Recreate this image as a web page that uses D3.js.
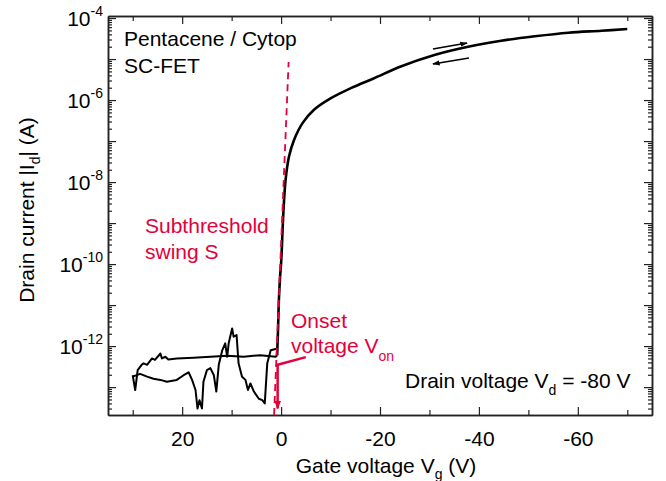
<!DOCTYPE html>
<html>
<head>
<meta charset="utf-8">
<script src="https://cdn.jsdelivr.net/npm/d3@7"></script>
<style>
  body { margin: 0; background: #fff; }
  svg { font-family: "Liberation Sans", Arial, sans-serif; }
</style>
</head>
<body>
<div id="chart"></div>
<script>
// on-state branch (shared by both sweeps), gate voltage in V, drain current in A
var onV = [0.8, 0.6, 0.45, 0.2, -0.04, -0.45, -0.9, -1.6, -2.6, -4.3, -6.65, -10, -14.1, -18.8, -24.2, -31, -37.8, -44.5, -51.3, -58.1, -64.8, -70];
var onI = [6e-13, 3e-12, 1.3e-11, 5e-11, 1.26e-10, 1.7e-9, 1.1e-8, 4.2e-8, 1.05e-7, 2.7e-7, 5.8e-7, 1.1e-6, 1.95e-6, 3.4e-6, 6.6e-6, 1.26e-5, 2.0e-5, 2.8e-5, 3.6e-5, 4.4e-5, 4.9e-5, 5.4e-5];

// off-state, sweep A (quiet)
var offAV = [30, 29.5, 29, 28.2, 27.8, 27.1, 26.1, 25.5, 24.4, 24.1, 23.4, 22.8, 21.1, 17.7, 14.3, 10.9, 7.6, 4.2, 1.1];
var offAI = [1.95e-13, 8.5e-14, 2.6e-13, 3.5e-13, 3.8e-13, 3.5e-13, 5e-13, 4.6e-13, 6.6e-13, 5e-13, 5.5e-13, 4.7e-13, 5e-13, 5.2e-13, 5.5e-13, 5.8e-13, 5.5e-13, 6e-13, 5.5e-13];

// off-state, sweep B (noisy)
var offBV = [30, 28.5, 27.1, 25.8, 24.4, 23.1, 21.1, 19.7, 18.7, 18, 17.3, 16.9, 16.5, 16, 15.7, 15, 14.3, 13.6, 13.1, 12.6, 11.9, 11.3, 10.9, 10.6, 9.9, 9.6, 9, 8.6, 7.9, 7.2, 6.7, 6.2, 5.5, 4.5, 3.8, 3.3, 2.8, 2.1, 1.5, 0.8];
var offBI = [1.8e-13, 2.1e-13, 1.8e-13, 1.6e-13, 1.5e-13, 1.35e-13, 1.5e-13, 1.95e-13, 2.3e-13, 1.5e-13, 8.5e-14, 3e-14, 4.8e-14, 3e-14, 1.35e-13, 2.6e-13, 2.9e-13, 1.95e-13, 7.8e-14, 3.5e-13, 7.9e-13, 1.17e-12, 5.5e-13, 1.17e-12, 2.7e-12, 1.7e-12, 1.86e-12, 3.8e-13, 1.8e-13, 1.5e-13, 8.5e-14, 1.23e-13, 7.8e-14, 5.2e-14, 4.8e-14, 4e-14, 3.8e-13, 7.9e-13, 8.3e-13, 8.7e-13];

// subthreshold swing fit line and onset voltage marker
var swingV = [1.42, -1.52];
var swingI = [2.1e-14, 8.5e-6];
var onsetV = [-5.0, 0.7, 0.7];
var onsetI = [5.4e-13, 3.5e-13, 3.0e-14];

// sweep direction arrows [V0, I0, V1, I1]
var sweepArrows = [[-30.7, 1.75e-5, -37.6, 2.45e-5], [-38.0, 1.06e-5, -30.7, 7.6e-6]];

var xMajor = [20, 0, -20, -40, -60];
var xMinor = [30, 10, -10, -30, -50, -70];
var yLabelExp = [-12, -10, -8, -6, -4];

var width = 666, height = 481;
var mLeft = 108, mRight = 652, mTop = 16, mBottom = 415;
var red = "#e4003b";

var svg = d3.select("#chart").append("svg")
    .attr("width", width)
    .attr("height", height);

var x = d3.scaleLinear().domain([35, -75]).range([mLeft, mRight]);
var y = d3.scaleLog().domain([Math.pow(10, -13.68), Math.pow(10, -3.95)]).range([mBottom, mTop]);

var yMajor = d3.range(-13, -3).map(function (k) { return Math.pow(10, k); });
var yMinor = [];
d3.range(-14, -3).forEach(function (k) {
    for (var m = 2; m <= 9; m++) {
        var v = m * Math.pow(10, k);
        if (v > y.domain()[0] && v < y.domain()[1]) yMinor.push(v);
    }
});

function tidy(g) {
    g.selectAll("path.domain").attr("stroke", "#222").attr("stroke-width", 1.5);
    g.selectAll(".tick line").attr("stroke", "#222").attr("stroke-width", 1.2);
}

// bottom axis
svg.append("g").attr("transform", "translate(0," + mBottom + ")")
    .call(d3.axisBottom(x).tickValues(xMinor).tickSize(-5).tickSizeOuter(0).tickFormat(""))
    .call(tidy);
svg.append("g").attr("transform", "translate(0," + mBottom + ")")
    .call(d3.axisBottom(x).tickValues(xMajor).tickSize(-8).tickSizeOuter(0).tickPadding(16)
        .tickFormat(function (d) { return String(d); }))
    .call(tidy)
    .selectAll("text").attr("font-size", 21).attr("fill", "#000")
    .attr("font-family", "Liberation Sans, Arial, sans-serif");

// top axis
svg.append("g").attr("transform", "translate(0," + mTop + ")")
    .call(d3.axisTop(x).tickValues(xMinor).tickSize(-5).tickSizeOuter(0).tickFormat(""))
    .call(tidy);
svg.append("g").attr("transform", "translate(0," + mTop + ")")
    .call(d3.axisTop(x).tickValues(xMajor).tickSize(-8).tickSizeOuter(0).tickFormat(""))
    .call(tidy);

// left and right axes
[["L", mLeft], ["R", mRight]].forEach(function (s) {
    var mk = s[0] === "L" ? d3.axisLeft : d3.axisRight;
    svg.append("g").attr("transform", "translate(" + s[1] + ",0)")
        .call(mk(y).tickValues(yMinor).tickSize(-4).tickSizeOuter(0).tickFormat(""))
        .call(tidy);
    svg.append("g").attr("transform", "translate(" + s[1] + ",0)")
        .call(mk(y).tickValues(yMajor).tickSize(-8).tickSizeOuter(0).tickFormat(""))
        .call(tidy);
});

// y tick labels 10^n
var yl = svg.append("g").selectAll("text")
    .data(yLabelExp)
    .enter().append("text")
      .attr("x", 103)
      .attr("y", function (d) { return y(Math.pow(10, d)) + 7.5; })
      .attr("text-anchor", "end")
      .attr("font-size", 21);
yl.append("tspan").text("10");
yl.append("tspan").attr("font-size", 14).attr("dy", -10).text(function (d) { return String(d); });

// axis titles
var xt = svg.append("text").attr("x", 386).attr("y", 473)
    .attr("text-anchor", "middle").attr("font-size", 21);
xt.append("tspan").text("Gate voltage V");
xt.append("tspan").attr("font-size", 14).attr("dy", 6).text("g");
xt.append("tspan").attr("dy", -6).text(" (V)");

var ytl = svg.append("text")
    .attr("transform", "translate(34," + 210 + ") rotate(-90)")
    .attr("text-anchor", "middle").attr("font-size", 21);
ytl.append("tspan").text("Drain current |I");
ytl.append("tspan").attr("font-size", 14).attr("dy", 6).text("d");
ytl.append("tspan").attr("dy", -6).text("| (A)");

// curves
var line = d3.line()
    .x(function (d) { return x(d[0]); })
    .y(function (d) { return y(d[1]); });
var smooth = d3.line()
    .curve(d3.curveCatmullRom.alpha(0.5))
    .x(function (d) { return x(d[0]); })
    .y(function (d) { return y(d[1]); });

function zip(a, b) { return a.map(function (v, i) { return [v, b[i]]; }); }

var onStart = [onV[0], onI[0]];
var plot = svg.append("g");

[zip(offAV, offAI).concat([onStart]), zip(offBV, offBI).concat([onStart])].forEach(function (s) {
    plot.append("path")
        .datum(s)
        .attr("d", line)
        .attr("fill", "none")
        .attr("stroke", "#000")
        .attr("stroke-width", 2)
        .attr("stroke-linejoin", "round");
});

plot.append("path")
    .datum(zip(onV, onI))
    .attr("d", smooth)
    .attr("fill", "none")
    .attr("stroke", "#000")
    .attr("stroke-width", 2.6)
    .attr("stroke-linejoin", "round");

// subthreshold fit line
plot.append("path")
    .datum(zip(swingV, swingI))
    .attr("d", line)
    .attr("fill", "none")
    .attr("stroke", red)
    .attr("stroke-width", 1.8)
    .attr("stroke-dasharray", "7,5");

// markers
var defs = svg.append("defs");
defs.append("marker").attr("id", "headK")
    .attr("viewBox", "0 0 10 10").attr("refX", 9).attr("refY", 5)
    .attr("markerWidth", 5).attr("markerHeight", 5).attr("orient", "auto")
  .append("path").attr("d", "M0,1.5L10,5L0,8.5Z").attr("fill", "#000");
defs.append("marker").attr("id", "headR")
    .attr("viewBox", "0 0 10 10").attr("refX", 9).attr("refY", 5)
    .attr("markerWidth", 3.5).attr("markerHeight", 3.5).attr("orient", "auto")
  .append("path").attr("d", "M0,1L10,5L0,9Z").attr("fill", red);

// onset voltage arrow
plot.append("path")
    .datum(zip(onsetV, onsetI))
    .attr("d", line)
    .attr("fill", "none")
    .attr("stroke", red)
    .attr("stroke-width", 2.5)
    .attr("marker-end", "url(#headR)");

// sweep direction arrows
plot.selectAll(".sweep")
    .data(sweepArrows)
    .enter().append("line")
      .attr("x1", function (d) { return x(d[0]); })
      .attr("y1", function (d) { return y(d[1]); })
      .attr("x2", function (d) { return x(d[2]); })
      .attr("y2", function (d) { return y(d[3]); })
      .attr("stroke", "#000")
      .attr("stroke-width", 1.5)
      .attr("marker-end", "url(#headK)");

// annotations
svg.append("text").attr("x", 124).attr("y", 46).attr("font-size", 21).text("Pentacene / Cytop");
svg.append("text").attr("x", 124).attr("y", 73).attr("font-size", 21).text("SC-FET");

svg.append("text").attr("x", 145).attr("y", 233).attr("font-size", 21).attr("fill", red).text("Subthreshold");
svg.append("text").attr("x", 145).attr("y", 259).attr("font-size", 21).attr("fill", red).text("swing S");

svg.append("text").attr("x", 291).attr("y", 328).attr("font-size", 21).attr("fill", red).text("Onset");
var on = svg.append("text").attr("x", 291).attr("y", 353).attr("font-size", 21).attr("fill", red);
on.append("tspan").text("voltage V");
on.append("tspan").attr("font-size", 14).attr("dy", 8).text("on");

var dv = svg.append("text").attr("x", 405).attr("y", 388).attr("font-size", 21);
dv.append("tspan").text("Drain voltage V");
dv.append("tspan").attr("font-size", 14).attr("dy", 7).text("d");
dv.append("tspan").attr("dy", -7).text(" = -80 V");
</script>
</body>
</html>
